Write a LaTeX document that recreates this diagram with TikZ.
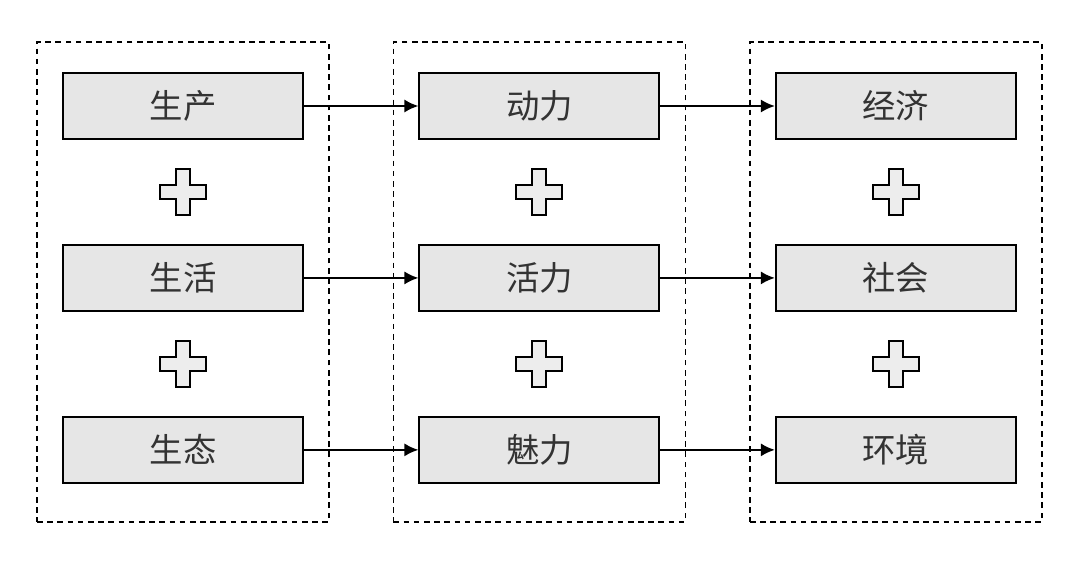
\documentclass[tikz,border=0pt]{standalone}
\usepackage{fontspec}
\setmainfont{Noto Sans CJK SC}
\usetikzlibrary{arrows.meta, positioning, fit, calc}

\definecolor{boxgray}{HTML}{E6E6E6}
\definecolor{textgray}{HTML}{333333}

\tikzset{
  cell/.style={draw, line width=1.1pt, fill=boxgray, minimum width=4.8cm, minimum height=1.32cm, inner sep=0pt, text=textgray, font=\fontsize{19}{22}\selectfont},
  group/.style={draw, dashed, dash pattern=on 3.2pt off 2.6pt, line width=0.8pt, inner xsep=0.5cm, inner ysep=0.68cm, yshift=-0.08cm},
  link/.style={-{Latex[length=8pt, width=7.5pt]}, line width=1.2pt},
  plussign/.pic={
    \draw[line width=1.1pt, fill=boxgray!70!white] (-0.14,0.46) -- (0.14,0.46) -- (0.14,0.14) -- (0.46,0.14) -- (0.46,-0.14) -- (0.14,-0.14) -- (0.14,-0.46) -- (-0.14,-0.46) -- (-0.14,-0.14) -- (-0.46,-0.14) -- (-0.46,0.14) -- (-0.14,0.14) -- cycle;
  }
}

\begin{document}
\begin{tikzpicture}[node distance=2.08cm and 2.29cm]
  \useasboundingbox (0,0) rectangle (21.6,-11.26);
  % left column
  \node[cell] (prod) at (3.66,-2.12) {生产};
  \node[cell, below=of prod] (life) {生活};
  \node[cell, below=of life] (eco) {生态};
  % middle column
  \node[cell, right=of prod] (power) {动力};
  \node[cell, below=of power] (vigor) {活力};
  \node[cell, below=of vigor] (charm) {魅力};
  % right column
  \node[cell, right=of power] (econ) {经济};
  \node[cell, below=of econ] (soc) {社会};
  \node[cell, below=of soc] (env) {环境};

  \node[group, fit=(prod)(eco)] (leftgrp) {};
  \node[group, fit=(power)(charm)] (midgrp) {};
  \node[group, fit=(econ)(env)] (rightgrp) {};

  \foreach \a/\b in {prod/life, life/eco, power/vigor, vigor/charm, econ/soc, soc/env}
    \pic at ($(\a)!0.5!(\b)$) {plussign};

  \draw[link] (prod) -- (power);
  \draw[link] (life) -- (vigor);
  \draw[link] (eco) -- (charm);
  \draw[link] (power) -- (econ);
  \draw[link] (vigor) -- (soc);
  \draw[link] (charm) -- (env);
\end{tikzpicture}
\end{document}
